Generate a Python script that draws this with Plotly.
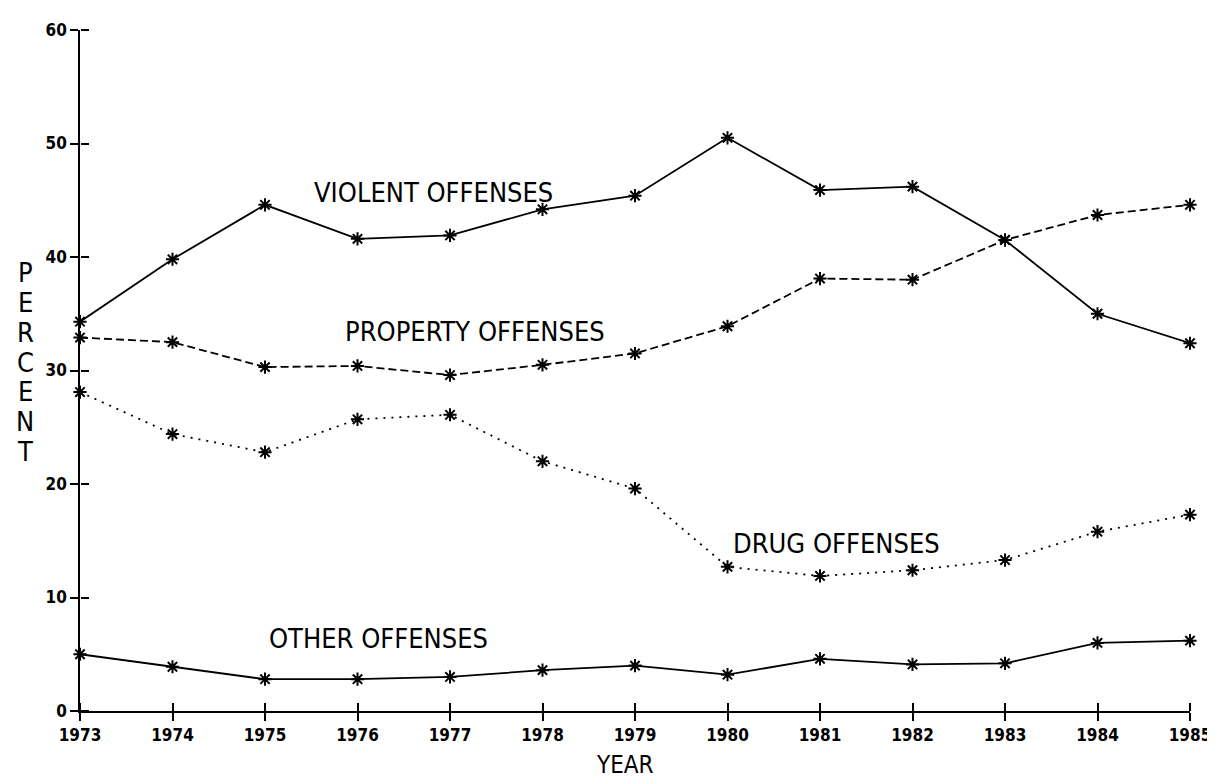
import plotly.graph_objects as go

years = [1973, 1974, 1975, 1976, 1977, 1978, 1979, 1980, 1981, 1982, 1983, 1984, 1985]
violent = [34.3, 39.8, 44.6, 41.6, 41.9, 44.2, 45.4, 50.5, 45.9, 46.2, 41.5, 35.0, 32.4]
property_ = [32.9, 32.5, 30.3, 30.4, 29.6, 30.5, 31.5, 33.9, 38.1, 38.0, 41.5, 43.7, 44.6]
drug = [28.1, 24.4, 22.8, 25.7, 26.1, 22.0, 19.6, 12.7, 11.9, 12.4, 13.3, 15.8, 17.3]
other = [5.0, 3.9, 2.8, 2.8, 3.0, 3.6, 4.0, 3.2, 4.6, 4.1, 4.2, 6.0, 6.2]
y_ticks = [0, 10, 20, 30, 40, 50, 60]

series = [
    ("VIOLENT OFFENSES", violent, "solid", 1976.82, 45.7),
    ("PROPERTY OFFENSES", property_, "8px,4px", 1977.27, 33.4),
    ("DRUG OFFENSES", drug, "2px,6px", 1981.18, 14.8),
    ("OTHER OFFENSES", other, "solid", 1976.23, 6.4),
]

FONT = "DejaVu Sans Condensed, DejaVu Sans, sans-serif"

W, H = 1215, 780
ML, MR, MT, MB = 72, 27, 20, 77
PH = H - MT - MB

fig = go.Figure()
for name, vals, dash, _, _ in series:
    fig.add_trace(go.Scatter(
        x=years, y=vals, mode="lines+markers", name=name,
        line=dict(color="black", width=1.8, dash=dash),
        marker=dict(symbol="asterisk-open", size=11, color="black",
                    line=dict(color="black", width=2)),
        cliponaxis=False, showlegend=False,
    ))

# invisible copy on the overlay axes so they get drawn (inner half of crossing ticks)
fig.add_trace(go.Scatter(x=years, y=other, xaxis="x2", yaxis="y2", mode="markers",
                         marker=dict(opacity=0), showlegend=False, hoverinfo="skip"))

annotations = []
for name, vals, dash, ax, ay in series:
    annotations.append(dict(
        x=ax, y=ay, xref="x", yref="y", text=name, showarrow=False,
        font=dict(family=FONT, size=27, color="black"),
        xanchor="center", yanchor="middle",
    ))
for i, ch in enumerate("PERCENT"):
    ypix = 263 + 30 * i
    annotations.append(dict(
        x=-(ML - 17) / (W - ML - MR), y=(H - MB - ypix) / PH,
        xref="paper", yref="paper", text=ch, showarrow=False,
        font=dict(family=FONT, size=27, color="black"),
        xanchor="center", yanchor="middle",
    ))
annotations.append(dict(
    x=(620 - ML) / (W - ML - MR), y=-(757 - (H - MB)) / PH,
    xref="paper", yref="paper", text="YEAR", showarrow=False,
    font=dict(family=FONT, size=24, color="black"),
    xanchor="center", yanchor="middle",
))

axis_common = dict(showgrid=False, zeroline=False, linecolor="black", linewidth=1.6,
                   tickcolor="black", tickwidth=1.6, ticklen=8)
tick_font = dict(family=FONT, size=17, color="black", weight="bold")

fig.update_layout(
    width=W, height=H,
    margin=dict(l=ML, r=MR, t=MT, b=MB),
    paper_bgcolor="white", plot_bgcolor="white",
    annotations=annotations,
    xaxis=dict(range=[1973, 1985], tickvals=years, ticktext=[str(y) for y in years],
               ticks="outside", showline=True, tickfont=tick_font, **axis_common),
    yaxis=dict(range=[0, 60], tickvals=y_ticks, ticks="outside", showline=True,
               tickfont=tick_font, **axis_common),
    xaxis2=dict(range=[1973, 1985], tickvals=years, ticks="outside", showline=False,
                showticklabels=False, overlaying="x", anchor="free", position=0,
                side="top", **axis_common),
    yaxis2=dict(range=[0, 60], tickvals=y_ticks, ticks="outside", showline=False,
                showticklabels=False, overlaying="y", anchor="free", position=0,
                side="right", **axis_common),
)

fig.write_html("out.html")
